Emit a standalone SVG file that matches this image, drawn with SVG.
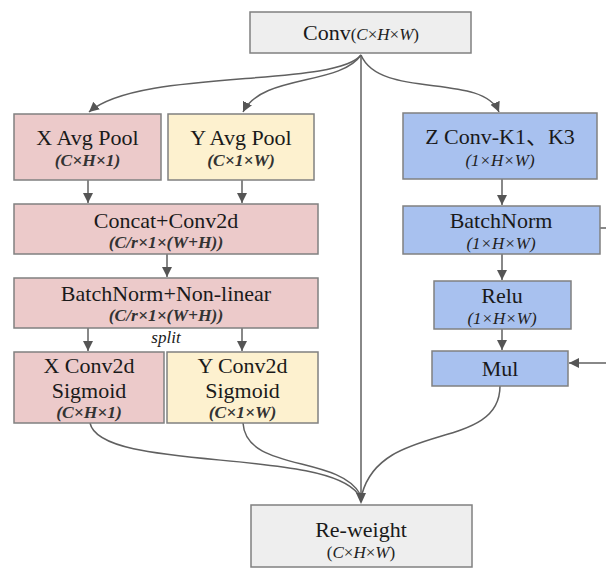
<svg xmlns="http://www.w3.org/2000/svg" width="606" height="571" viewBox="0 0 606 571">
  <style>
    .box { stroke: #808080; stroke-width: 1.5; }
    .gray { fill: #eeeeee; }
    .pink { fill: #eccaca; }
    .yellow { fill: #fdf1cf; }
    .blue { fill: #a8c1ef; }
    text { font-family: "Liberation Serif", "Noto Sans CJK SC", serif; fill: #1a1a1a; text-anchor: middle; }
    .t { font-size: 22px; }
    .s { font-size: 17.5px; font-style: italic; font-weight: bold; fill: #333; }
    .r { font-size: 17px; fill: #222; }
    .i { font-style: italic; }
    .link { fill: none; stroke: #606060; stroke-width: 1.5; }
  </style>
  <defs>
    <marker id="arrow" markerUnits="userSpaceOnUse" markerWidth="11" markerHeight="11" refX="10" refY="5" orient="auto">
      <path d="M0,0 L10,5 L0,10 z" fill="#555555"/>
    </marker>
  </defs>

  <!-- connectors -->
  <g id="connectors">
    <!-- fan-out from Conv -->
    <path class="link" d="M361,55 C335,88 140,68 89,112" marker-end="url(#arrow)"/>
    <path class="link" d="M361,55 C340,86 262,74 243,112" marker-end="url(#arrow)"/>
    <path class="link" d="M361,55 C380,100 482,72 499,112" marker-end="url(#arrow)"/>
    <path class="link" d="M361,55 L361,494"/>
    <!-- left branch -->
    <path class="link" d="M88,180 L88,203" marker-end="url(#arrow)"/>
    <path class="link" d="M242,180 L242,203" marker-end="url(#arrow)"/>
    <path class="link" d="M167,254 L167,277" marker-end="url(#arrow)"/>
    <path class="link" d="M88,328 L88,351" marker-end="url(#arrow)"/>
    <path class="link" d="M242,328 L242,351" marker-end="url(#arrow)"/>
    <!-- right branch -->
    <path class="link" d="M502,179 L502,205" marker-end="url(#arrow)"/>
    <path class="link" d="M502,254 L502,280" marker-end="url(#arrow)"/>
    <path class="link" d="M502,329 L502,350" marker-end="url(#arrow)"/>
    <path class="link" d="M600,228 L606,228"/>
    <path class="link" d="M606,363 L569,363" marker-end="url(#arrow)"/>
    <!-- merge into Re-weight -->
    <path class="link" d="M90,423 C100,472 325,448 358,494"/>
    <path class="link" d="M243,423 C246,472 338,455 360,494"/>
    <path class="link" d="M500,386 C500,452 382,420 362,494"/>
    <path d="M356,493 L366,493 L361,504 z" fill="#555555"/>
  </g>

  <g id="conv">
    <rect class="box gray" x="250" y="12" width="221" height="41"/>
    <text class="t" x="361" y="40">Conv<tspan class="r">(<tspan class="i">C</tspan>×<tspan class="i">H</tspan>×<tspan class="i">W</tspan>)</tspan></text>
  </g>

  <g id="x-avg-pool">
    <rect class="box pink" x="14" y="114" width="147" height="66"/>
    <text class="t" x="87.5" y="145">X Avg Pool</text>
    <text class="s" x="87.5" y="166">(C×H×1)</text>
  </g>

  <g id="y-avg-pool">
    <rect class="box yellow" x="168" y="114" width="146" height="66"/>
    <text class="t" x="241" y="145">Y Avg Pool</text>
    <text class="s" x="241" y="166">(C×1×W)</text>
  </g>

  <g id="concat-conv2d">
    <rect class="box pink" x="14" y="204" width="304" height="50"/>
    <text class="t" x="166" y="228">Concat+Conv2d</text>
    <text class="s" x="166" y="248">(C/r×1×(W+H))</text>
  </g>

  <g id="batchnorm-nonlinear">
    <rect class="box pink" x="14" y="278" width="304" height="50"/>
    <text class="t" x="166" y="301">BatchNorm+Non-linear</text>
    <text class="s" x="166" y="321">(C/r×1×(W+H))</text>
  </g>

  <text class="i" x="166" y="343" style="font-size:17px">split</text>

  <g id="x-conv2d">
    <rect class="box pink" x="14" y="352" width="150" height="71"/>
    <text class="t" x="89" y="373">X Conv2d</text>
    <text class="t" x="89" y="398">Sigmoid</text>
    <text class="s" x="89" y="418">(C×H×1)</text>
  </g>

  <g id="y-conv2d">
    <rect class="box yellow" x="167" y="352" width="151" height="71"/>
    <text class="t" x="242.5" y="373">Y Conv2d</text>
    <text class="t" x="242.5" y="398">Sigmoid</text>
    <text class="s" x="242.5" y="418">(C×1×W)</text>
  </g>

  <g id="z-conv">
    <rect class="box blue" x="403" y="113" width="194" height="66"/>
    <text class="t" x="500" y="144">Z Conv-K1、K3</text>
    <text class="r i" x="500" y="166">(1×H×W)</text>
  </g>

  <g id="batchnorm">
    <rect class="box blue" x="403" y="206" width="197" height="48"/>
    <text class="t" x="501" y="228">BatchNorm</text>
    <text class="r i" x="501" y="249">(1×H×W)</text>
  </g>

  <g id="relu">
    <rect class="box blue" x="434" y="281" width="137" height="48"/>
    <text class="t" x="502" y="303">Relu</text>
    <text class="r i" x="502" y="324">(1×H×W)</text>
  </g>

  <g id="mul">
    <rect class="box blue" x="432" y="351" width="136" height="35"/>
    <text class="t" x="500" y="376">Mul</text>
  </g>

  <g id="re-weight">
    <rect class="box gray" x="251" y="505" width="221" height="62"/>
    <text class="t" x="361" y="537">Re-weight</text>
    <text class="r" x="361" y="558">(<tspan class="i">C</tspan>×<tspan class="i">H</tspan>×<tspan class="i">W</tspan>)</text>
  </g>
</svg>
